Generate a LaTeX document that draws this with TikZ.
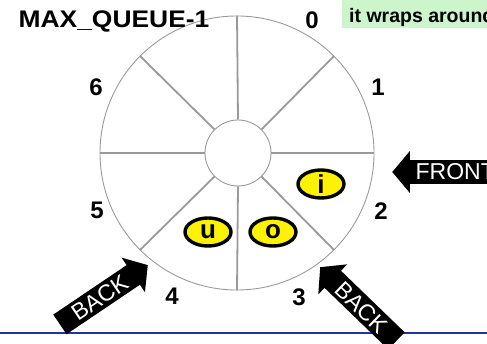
\documentclass[tikz,border=0pt]{standalone}
\usepackage{fontspec}
\setmainfont{Liberation Sans}
\usepackage{tikz}
\usetikzlibrary{shapes,arrows,positioning,calc}
\definecolor{notegreen}{HTML}{CCF5CC}
\definecolor{ringgray}{HTML}{9A9A9A}
\definecolor{ruleblue}{HTML}{2233AA}
\tikzstyle{slot} = [font=\fontsize{24}{28}\selectfont\bfseries, inner sep=0pt]
\tikzstyle{ring} = [circle, draw=ringgray, line width=0.9pt, inner sep=0pt]
\tikzstyle{spoke} = [ringgray, line width=1.8pt]
\tikzstyle{item} = [ellipse, draw=black, line width=3.4pt, fill=yellow, minimum width=46pt, minimum height=28pt, inner sep=0pt, font=\fontsize{26}{28}\selectfont\bfseries]
\tikzstyle{pointer} = [single arrow, fill=black, text=white, inner xsep=2pt, inner ysep=3.5pt, single arrow head extend=9pt, single arrow tip angle=100, font=\fontsize{23}{25}\selectfont]

\begin{document}
\begin{tikzpicture}[x=1pt,y=-1pt]
    \useasboundingbox (0,0) rectangle (487,344);
    % Note box, cut by the top and right edges
    \begin{scope}
        \clip (0,0) rectangle (487,344);
        \fill[notegreen] (342,-20) rectangle (500,28);
        \node[anchor=base west, inner sep=0pt, font=\fontsize{19.5}{21}\selectfont\bfseries] (note) at (349,23) {it wraps around};
    \end{scope}
    % Ring with eight slots
    \node[ring, minimum size=274pt] (outer) at (237,153) {};
    \node[ring, fill=white, minimum size=66pt] (hub) at (238,153) {};
    \foreach \a in {0,45,...,315} {\draw[spoke] (hub.\a) -- (outer.\a);}
    % Slot numbers
    \node[slot] (s0) at (312,20) {0};
    \node[slot] (s1) at (378,87) {1};
    \node[slot] (s2) at (381,211) {2};
    \node[slot] (s3) at (299,297) {3};
    \node[slot] (s4) at (172,296) {4};
    \node[slot] (s5) at (97,210) {5};
    \node[slot] (s6) at (96,87) {6};
    \node[slot] (s7) at (114,21) {\scalebox{1.1}[1]{MAX\_QUEUE-1}};
    % Queue contents
    \node[item] (qi) at (321,184) {i};
    \node[item] (qu) at (208,232) {u};
    \node[item] (qo) at (273,232) {o};
    % Bottom rule
    \coordinate (rulel) at (0,333);
    \coordinate (ruler) at (487,333);
    \draw[ruleblue, line width=1.5pt] (rulel) -- (ruler);
    % Front and back pointers
    \node[pointer, shape border rotate=180, minimum height=116pt, anchor=tip] (front) at (392,172) {FRONT};
    \node[pointer, rotate=34, minimum height=106pt, anchor=tip] (backl) at (148,265) {BACK};
    \node[pointer, rotate=-44, shape border rotate=180, minimum height=106pt, anchor=tip] (backr) at (320,267) {BACK};
\end{tikzpicture}
\end{document}
